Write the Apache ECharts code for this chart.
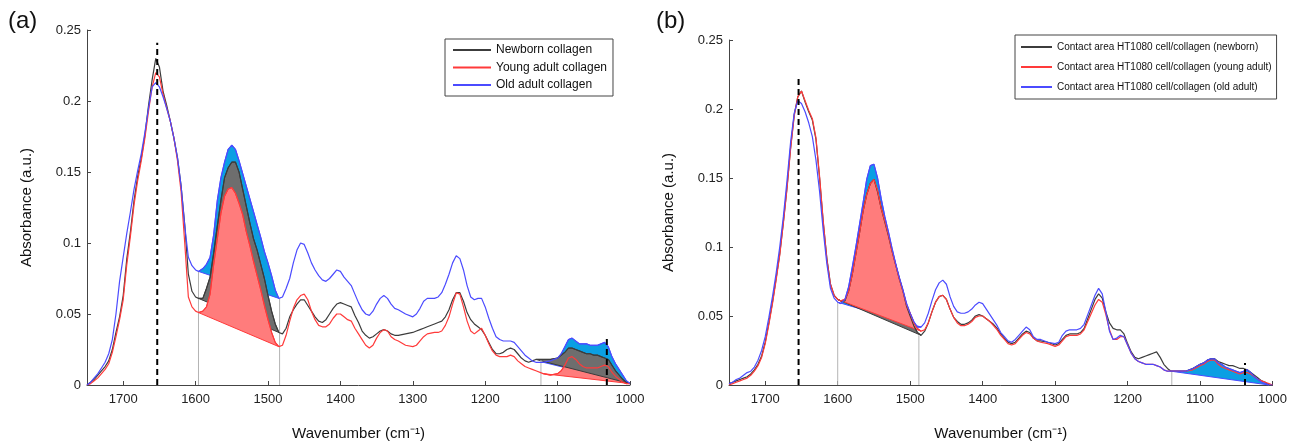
<!DOCTYPE html>
<html><head><meta charset="utf-8">
<script src="https://cdn.jsdelivr.net/npm/echarts@6/dist/echarts.min.js"></script>
<style>html,body{margin:0;padding:0;background:#fff}#c{width:1290px;height:446px}</style>
</head><body><div id="c"></div>
<script>
// Wavenumber grid (cm-1), shared by all spectra
const wavenumbers = [
 1750,1745,1740,1735,1730,1725,1720,1715,1710,1705,1700,
 1695,1690,1685,1680,1675,1670,1665,1660,1655,1650,1645,1640,1635,1630,1625,1620,1615,1610,1605,1600,
 1596,1590,1585,1580,1575,1570,1565,1560,1555,1550,1545,1540,1535,1530,1525,1520,1515,1510,1505,1500,1495,1490,1485,1480,
 1475,1470,1465,1460,1455,1450,1445,1440,1435,1430,1425,1420,1415,1410,1405,1400,1395,1390,1385,1380,1375,1370,1365,1360,1355,1350,1345,1340,1335,1330,1325,1320,
 1310,1300,1295,1290,1285,1280,1270,1265,1260,
 1255,1250,1245,1240,1235,1230,1225,1220,1215,1210,1205,1200,1195,1190,1185,1180,1175,1170,1165,1160,1155,1150,1145,1140,1135,
 1130,1120,1110,1100,
 1095,1090,1085,1080,1075,1070,1065,1060,1055,1050,1045,1040,1035,1030,1025,1020,1015,1010,1005,1000
];

// Panel (a)
const aNewborn = [
 0.000,0.002,0.004,0.007,0.010,0.013,0.017,0.025,0.037,0.048,0.063,
 0.089,0.108,0.130,0.147,0.160,0.176,0.197,0.215,0.230,0.224,0.207,0.197,0.186,0.174,0.160,0.140,0.113,0.078,0.066,0.062,
 0.061,0.061,0.068,0.076,0.093,0.112,0.130,0.146,0.153,0.157,0.157,0.150,0.138,0.126,0.114,0.103,0.095,0.085,0.075,0.063,0.052,0.043,0.037,0.036,
 0.040,0.048,0.053,0.057,0.060,0.060,0.056,0.052,0.048,0.045,0.044,0.046,0.050,0.054,0.057,0.058,0.057,0.056,0.055,0.049,0.044,0.038,0.035,0.033,0.034,0.036,0.038,0.039,0.038,0.036,0.035,0.035,
 0.036,0.037,0.038,0.039,0.040,0.041,0.043,0.044,0.045,
 0.048,0.053,0.060,0.065,0.065,0.059,0.051,0.046,0.043,0.041,0.039,0.035,0.030,0.025,0.022,0.022,0.023,0.025,0.026,0.025,0.022,0.019,0.017,0.016,0.017,
 0.018,0.018,0.018,0.019,
 0.021,0.023,0.026,0.026,0.025,0.024,0.023,0.022,0.022,0.021,0.021,0.020,0.019,0.018,0.014,0.010,0.007,0.004,0.002,0.001
];
const aYoung = [
 0.000,0.001,0.003,0.005,0.008,0.011,0.015,0.023,0.034,0.046,0.060,
 0.085,0.105,0.127,0.144,0.158,0.174,0.193,0.210,0.220,0.217,0.205,0.195,0.186,0.174,0.158,0.136,0.100,0.062,0.055,0.052,
 0.051,0.052,0.055,0.064,0.085,0.103,0.121,0.133,0.138,0.139,0.135,0.128,0.120,0.108,0.098,0.087,0.077,0.067,0.056,0.046,0.037,0.030,0.027,0.028,
 0.035,0.045,0.054,0.060,0.063,0.064,0.060,0.052,0.046,0.042,0.041,0.041,0.043,0.047,0.050,0.050,0.048,0.046,0.045,0.040,0.036,0.032,0.028,0.026,0.028,0.033,0.037,0.039,0.038,0.034,0.032,0.031,
 0.028,0.027,0.028,0.031,0.034,0.036,0.037,0.037,0.038,
 0.042,0.048,0.057,0.065,0.064,0.055,0.045,0.038,0.036,0.038,0.040,0.035,0.029,0.024,0.021,0.020,0.020,0.020,0.021,0.020,0.017,0.015,0.013,0.012,0.011,
 0.010,0.008,0.007,0.008,
 0.010,0.014,0.019,0.020,0.018,0.015,0.013,0.012,0.012,0.012,0.012,0.013,0.014,0.013,0.009,0.006,0.004,0.002,0.001,0.001
];
const aOld = [
 0.000,0.002,0.005,0.008,0.012,0.016,0.022,0.032,0.050,0.073,0.090,
 0.107,0.122,0.138,0.151,0.163,0.178,0.195,0.210,0.213,0.210,0.203,0.195,0.186,0.174,0.160,0.140,0.112,0.090,0.084,0.081,
 0.080,0.082,0.085,0.090,0.106,0.130,0.146,0.157,0.166,0.169,0.166,0.158,0.149,0.140,0.131,0.122,0.113,0.104,0.094,0.086,0.077,0.067,0.061,0.062,
 0.068,0.075,0.086,0.095,0.100,0.099,0.093,0.086,0.081,0.077,0.074,0.073,0.075,0.078,0.081,0.080,0.076,0.073,0.070,0.064,0.058,0.053,0.050,0.049,0.052,0.057,0.061,0.063,0.061,0.057,0.054,0.053,
 0.050,0.048,0.050,0.054,0.059,0.061,0.061,0.062,0.065,
 0.071,0.078,0.086,0.091,0.089,0.081,0.070,0.062,0.060,0.061,0.061,0.055,0.047,0.040,0.034,0.032,0.031,0.031,0.031,0.030,0.027,0.024,0.021,0.019,0.017,
 0.016,0.016,0.017,0.019,
 0.022,0.027,0.032,0.033,0.031,0.029,0.029,0.029,0.028,0.028,0.028,0.029,0.030,0.027,0.020,0.015,0.011,0.007,0.003,0.001
];

// Panel (b)
const bNewborn = [
 0.001,0.002,0.003,0.004,0.005,0.006,0.008,0.011,0.015,0.021,0.031,
 0.045,0.060,0.077,0.095,0.118,0.143,0.172,0.196,0.209,0.213,0.205,0.198,0.192,0.178,0.150,0.118,0.092,0.073,0.065,0.062,
 0.061,0.061,0.068,0.080,0.095,0.110,0.126,0.138,0.146,0.149,0.140,0.128,0.118,0.108,0.097,0.087,0.077,0.068,0.057,0.050,0.043,0.038,0.036,0.039,
 0.045,0.053,0.060,0.064,0.065,0.062,0.055,0.049,0.046,0.044,0.044,0.045,0.047,0.050,0.051,0.050,0.048,0.046,0.044,0.041,0.037,0.034,0.031,0.030,0.031,0.034,0.037,0.039,0.038,0.034,0.032,0.032,
 0.031,0.029,0.030,0.033,0.036,0.037,0.037,0.038,0.041,
 0.048,0.055,0.062,0.066,0.063,0.053,0.045,0.041,0.040,0.040,0.037,0.030,0.024,0.020,0.019,0.020,0.021,0.022,0.023,0.024,0.020,0.015,0.012,0.010,0.010,
 0.010,0.010,0.012,0.015,
 0.016,0.018,0.019,0.019,0.017,0.016,0.015,0.014,0.014,0.013,0.012,0.012,0.011,0.009,0.007,0.005,0.003,0.002,0.000,0.000
];
const bYoung = [
 0.000,0.001,0.002,0.003,0.004,0.005,0.007,0.010,0.014,0.020,0.030,
 0.044,0.059,0.076,0.094,0.117,0.142,0.171,0.195,0.209,0.213,0.206,0.199,0.193,0.179,0.151,0.119,0.091,0.073,0.065,0.062,
 0.061,0.062,0.068,0.080,0.095,0.110,0.126,0.138,0.146,0.149,0.141,0.128,0.119,0.109,0.097,0.087,0.077,0.068,0.058,0.052,0.045,0.041,0.039,0.040,
 0.045,0.053,0.060,0.064,0.065,0.062,0.055,0.049,0.045,0.043,0.043,0.044,0.046,0.049,0.050,0.050,0.048,0.046,0.043,0.040,0.036,0.033,0.030,0.029,0.030,0.033,0.036,0.038,0.037,0.034,0.032,0.031,
 0.030,0.028,0.029,0.032,0.035,0.036,0.036,0.037,0.040,
 0.046,0.052,0.058,0.062,0.060,0.051,0.040,0.033,0.033,0.035,0.035,0.029,0.023,0.019,0.017,0.016,0.015,0.015,0.015,0.014,0.013,0.011,0.010,0.010,0.010,
 0.010,0.010,0.011,0.014,
 0.015,0.017,0.018,0.018,0.015,0.013,0.012,0.011,0.010,0.009,0.008,0.009,0.009,0.008,0.006,0.004,0.003,0.002,0.001,0.000
];
const bOld = [
 0.001,0.002,0.004,0.005,0.007,0.009,0.010,0.013,0.018,0.025,0.035,
 0.049,0.064,0.081,0.100,0.122,0.148,0.176,0.197,0.206,0.204,0.198,0.190,0.180,0.163,0.140,0.112,0.088,0.070,0.063,0.060,
 0.059,0.062,0.071,0.085,0.100,0.116,0.132,0.149,0.159,0.160,0.150,0.135,0.122,0.111,0.099,0.088,0.078,0.069,0.059,0.052,0.046,0.042,0.042,0.045,
 0.052,0.061,0.069,0.074,0.076,0.073,0.064,0.057,0.053,0.052,0.052,0.053,0.055,0.058,0.060,0.059,0.055,0.051,0.047,0.043,0.038,0.035,0.032,0.031,0.033,0.036,0.039,0.042,0.040,0.035,0.033,0.033,
 0.031,0.030,0.031,0.036,0.039,0.040,0.040,0.041,0.044,
 0.051,0.058,0.065,0.070,0.066,0.053,0.039,0.033,0.034,0.036,0.035,0.029,0.023,0.019,0.017,0.016,0.015,0.015,0.015,0.014,0.013,0.011,0.010,0.010,0.010,
 0.010,0.010,0.012,0.015,
 0.016,0.018,0.019,0.019,0.016,0.015,0.013,0.012,0.011,0.010,0.009,0.010,0.011,0.009,0.006,0.004,0.002,0.001,0.000,0.000
];

const namesA = ['Newborn collagen','Young adult collagen','Old adult collagen'];
const namesB = ['Contact area HT1080 cell/collagen (newborn)','Contact area HT1080 cell/collagen (young adult)','Contact area HT1080 cell/collagen (old adult)'];

// Integrated bands: [series key, from wn, to wn] in drawing order
const bandsA = [['old',1596,1485],['new',1596,1485],['young',1596,1485],['old',1120,1000],['young',1120,1000],['new',1130,1000]];
const bandsB = [['old',1600,1485],['new',1600,1485],['young',1600,1485],['old',1140,1005]];
// Marker lines: [wavenumber, top absorbance]
const dashedA = [[1653,0.241],[1032,0.035]];
const dashedB = [[1654,0.2235],[1038,0.016]];
const limitsA = [[1596,0.080],[1484,0.061],[1123,0.018]];
const limitsB = [[1600,0.060],[1488,0.036],[1139,0.010]];

const LINE = {new:'#3c3c3c', young:'#ff3a3a', old:'#4b4bff'};
const FILL = {new:'#6e6e6e', young:'#ff7c7c', old:'#0b9fe3'};
const FONT = "'Liberation Sans', Arial, sans-serif";

const seriesA = {new:aNewborn, young:aYoung, old:aOld};
const seriesB = {new:bNewborn, young:bYoung, old:bOld};

function pts(vals){ return wavenumbers.map((w,i)=>[w, vals[i]]); }
function bandPts(vals, from, to){
  const p=[]; wavenumbers.forEach((w,i)=>{ if(w<=from && w>=to) p.push([w, vals[i]]); }); return p;
}

const series = [];
function addBands(bands, set, gi){
  bands.forEach(b=>{
    const poly = bandPts(set[b[0]], b[1], b[2]);
    series.push({
      type:'custom', xAxisIndex:gi, yAxisIndex:gi, silent:true, z:2,
      data:[[b[1],0]],
      renderItem:(params, api)=>({type:'polygon', shape:{points: poly.map(p=>api.coord(p))},
        style:{fill:FILL[b[0]], stroke:LINE[b[0]], lineWidth:1}})
    });
  });
}
function addRefs(list, gi, dashed){
  series.push({
    type:'custom', xAxisIndex:gi, yAxisIndex:gi, silent:true, z: dashed?6:3,
    data:list,
    renderItem:(params, api)=>{
      const a = api.coord([api.value(0),0]), b = api.coord([api.value(0),api.value(1)]);
      return {type:'line', shape:{x1:a[0],y1:a[1],x2:b[0],y2:b[1]},
        style: dashed ? {stroke:'#000', lineWidth:2, lineDash:[6,4]} : {stroke:'#b4b4b4', lineWidth:1}};
    }
  });
}
function addLines(set, names, gi){
  ['new','young','old'].forEach((k,j)=>{
    series.push({type:'line', name:names[j], xAxisIndex:gi, yAxisIndex:gi, data:pts(set[k]),
      symbol:'none', showSymbol:false, z:4, lineStyle:{color:LINE[k], width:1.2}, itemStyle:{color:LINE[k]}});
  });
}
addRefs(limitsA,0,false); addBands(bandsA, seriesA, 0); addLines(seriesA, namesA, 0); addRefs(dashedA,0,true);
addRefs(limitsB,1,false); addBands(bandsB, seriesB, 1); addLines(seriesB, namesB, 1); addRefs(dashedB,1,true);

function xAxis(gi){
  return {type:'value', gridIndex:gi, min:1000, max:1750, interval:100, inverse:true,
    name:'Wavenumber (cm\u207B\u00B9)', nameLocation:'middle', nameGap:41,
    nameTextStyle:{fontSize:15, color:'#111', fontFamily:FONT},
    axisLine:{lineStyle:{color:'#444', width:1}}, axisTick:{inside:true, length:4, lineStyle:{color:'#444'}},
    axisLabel:{fontSize:13, color:'#222', margin:8, fontFamily:FONT, showMaxLabel:false,
      formatter:v=>(v % 100 === 0 ? String(v) : '')}, splitLine:{show:false}};
}
function yAxis(gi){
  return {type:'value', gridIndex:gi, min:0, max:0.25, interval:0.05,
    name:'Absorbance (a.u.)', nameLocation:'middle', nameGap:53, nameRotate:90,
    nameTextStyle:{fontSize:15, color:'#111', fontFamily:FONT},
    axisLine:{show:true, lineStyle:{color:'#444', width:1}}, axisTick:{show:true, inside:true, length:4, lineStyle:{color:'#444'}},
    axisLabel:{fontSize:13, color:'#222', margin:6, fontFamily:FONT, formatter:v=>String(v)}, splitLine:{show:false}};
}

const chart = echarts.init(document.getElementById('c'), null, {renderer:'canvas'});
chart.setOption({
  animation:false,
  backgroundColor:'#fff',
  title:[
    {text:'(a)', left:8, top:9, padding:0, textStyle:{fontSize:24, fontWeight:'normal', color:'#111', fontFamily:FONT}},
    {text:'(b)', left:656, top:9, padding:0, textStyle:{fontSize:24, fontWeight:'normal', color:'#111', fontFamily:FONT}}
  ],
  grid:[
    {left:87, right:660, top:30, bottom:51},
    {left:729, right:16, top:40, bottom:52}
  ],
  xAxis:[xAxis(0), xAxis(1)],
  yAxis:[yAxis(0), yAxis(1)],
  legend:[
    {data:namesA, orient:'vertical', left:445, top:39, padding:[4,6,4,8], itemGap:3.5,
     itemWidth:38, itemHeight:2, icon:'rect', itemTextGap:4, borderColor:'#444', borderWidth:1,
     textStyle:{fontSize:12, lineHeight:14, color:'#111', fontFamily:FONT}},
    {data:namesB, orient:'vertical', left:1015, top:35, padding:[5,5,5,6], itemGap:6,
     itemWidth:31, itemHeight:2, icon:'rect', itemTextGap:3, borderColor:'#444', borderWidth:1,
     textStyle:{fontSize:10, lineHeight:14, color:'#111', fontFamily:FONT}}
  ],
  series: series
});
</script></body></html>
